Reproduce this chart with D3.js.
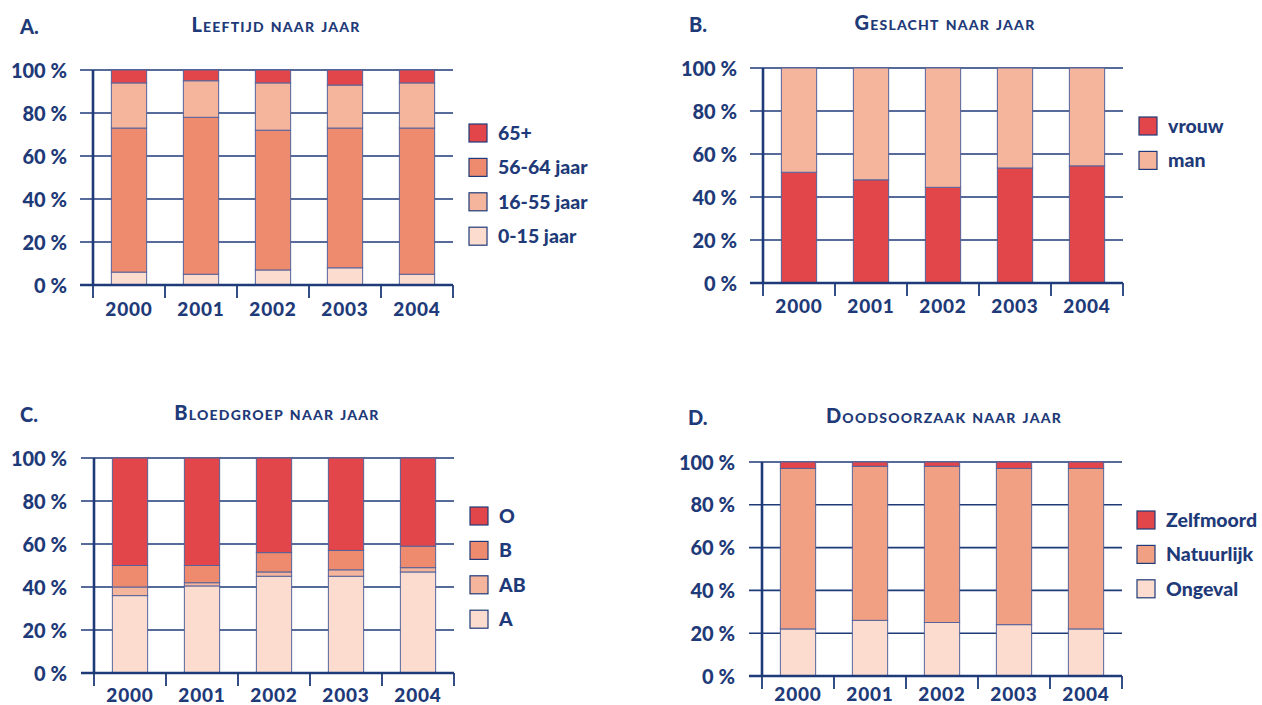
<!DOCTYPE html>
<html>
<head>
<meta charset="utf-8">
<script src="https://cdn.jsdelivr.net/npm/d3@7"></script>
<style>
  html, body { margin: 0; padding: 0; background: #fff; }
  svg { display: block; }
  text { font-family: Lato, "Open Sans", sans-serif; font-weight: 900; fill: #1f3a78; }
</style>
</head>
<body>
<svg id="chart" width="1262" height="705"></svg>
<script>
// Years on the horizontal axis of every panel
const years = ["2000", "2001", "2002", "2003", "2004"];
const yTicks = [0, 20, 40, 60, 80, 100];

// A. Leeftijd naar jaar (% per year, stacked bottom to top)
const leeftijd0_15  = [6, 5, 7, 8, 5];
const leeftijd56_64 = [67, 73, 65, 65, 68];
const leeftijd16_55 = [21, 17, 22, 20, 21];
const leeftijd65    = [6, 5, 6, 7, 6];

// B. Geslacht naar jaar
const vrouw = [51.5, 48, 44.5, 53.5, 54.5];
const man   = [48.5, 52, 55.5, 46.5, 45.5];

// C. Bloedgroep naar jaar
const groepA  = [36, 40.5, 45, 45, 47];
const groepAB = [4, 1.5, 2, 3, 2];
const groepB  = [10, 8, 9, 9, 10];
const groepO  = [50, 50, 44, 43, 41];

// D. Doodsoorzaak naar jaar
const ongeval    = [22, 26, 25, 24, 22];
const natuurlijk = [75, 72, 73, 73, 75];
const zelfmoord  = [3, 2, 2, 3, 3];

// Legend orders (top to bottom)
const legendA = ["65+", "56-64 jaar", "16-55 jaar", "0-15 jaar"];
const legendB = ["vrouw", "man"];
const legendC = ["O", "B", "AB", "A"];
const legendD = ["Zelfmoord", "Natuurlijk", "Ongeval"];

const INK = "#1f3a78";
const RED = "#e2454a", MID = "#ee8a6e", LIGHT = "#f5b49c", PALE = "#fbdccf", SALMON = "#f2a084";

const panels = [
  {
    letter: "A.", title: "Leeftijd naar jaar",
    x0: 93, top: 70, bottom: 285, letterX: 20, letterY: 34, titleX: 276, titleY: 32,
    labelRight: 67, legendX: 469, legendY: 124, legend: legendA, xLabelGap: 17,
    series: [
      { key: "0-15 jaar", values: leeftijd0_15, color: PALE },
      { key: "56-64 jaar", values: leeftijd56_64, color: MID },
      { key: "16-55 jaar", values: leeftijd16_55, color: LIGHT },
      { key: "65+", values: leeftijd65, color: RED }
    ]
  },
  {
    letter: "B.", title: "Geslacht naar jaar",
    x0: 763, top: 68, bottom: 283, letterX: 689, letterY: 32, titleX: 945, titleY: 30,
    labelRight: 737, legendX: 1139, legendY: 117, legend: legendB, xLabelGap: 16,
    series: [
      { key: "vrouw", values: vrouw, color: RED },
      { key: "man", values: man, color: LIGHT }
    ]
  },
  {
    letter: "C.", title: "Bloedgroep naar jaar",
    x0: 94, top: 458, bottom: 673, letterX: 20, letterY: 422, titleX: 277, titleY: 420,
    labelRight: 67, legendX: 470, legendY: 507, legend: legendC, xLabelGap: 15,
    series: [
      { key: "A", values: groepA, color: PALE },
      { key: "AB", values: groepAB, color: LIGHT },
      { key: "B", values: groepB, color: MID },
      { key: "O", values: groepO, color: RED }
    ]
  },
  {
    letter: "D.", title: "Doodsoorzaak naar jaar",
    x0: 762, top: 462, bottom: 676, letterX: 688, letterY: 425, titleX: 944, titleY: 423,
    labelRight: 735, legendX: 1137, legendY: 511, legend: legendD, xLabelGap: 11,
    series: [
      { key: "Ongeval", values: ongeval, color: PALE },
      { key: "Natuurlijk", values: natuurlijk, color: SALMON },
      { key: "Zelfmoord", values: zelfmoord, color: RED }
    ]
  }
];

const svg = d3.select("#chart");
const BAND = 72, TICK = 13, LEG_STEP = 34.4, SWATCH = 18;

panels.forEach(p => {
  const g = svg.append("g");
  const x = d3.scaleBand().domain(years).range([p.x0, p.x0 + BAND * years.length]).padding(0);
  const y = d3.scaleLinear().domain([0, 100]).range([p.bottom, p.top]);
  const xEnd = x.range()[1];

  // Headings
  g.append("text").attr("x", p.letterX).attr("y", p.letterY)
    .style("font-size", "20px").text(p.letter);
  g.append("text").attr("x", p.titleX).attr("y", p.titleY)
    .attr("text-anchor", "middle")
    .style("font-size", "20px").style("font-variant", "small-caps")
    .style("letter-spacing", "1.2px")
    .text(p.title);

  // Horizontal gridlines (behind the bars)
  g.append("g").selectAll("line").data(yTicks.filter(t => t > 0)).join("line")
    .attr("x1", p.x0 - TICK).attr("x2", xEnd)
    .attr("y1", d => y(d)).attr("y2", d => y(d))
    .attr("stroke", INK).attr("stroke-width", 1.6);

  // Stacked bars
  const rows = years.map((yr, i) => {
    const r = { year: yr };
    p.series.forEach(s => { r[s.key] = s.values[i]; });
    return r;
  });
  const stack = d3.stack().keys(p.series.map(s => s.key))(rows);
  const barW = x.bandwidth() * 0.49;
  const off = (x.bandwidth() - barW) / 2;
  stack.forEach((layer, li) => {
    g.append("g").selectAll("rect").data(layer).join("rect")
      .attr("x", d => x(d.data.year) + off)
      .attr("width", barW)
      .attr("y", d => y(d[1]))
      .attr("height", d => y(d[0]) - y(d[1]))
      .attr("fill", p.series[li].color)
      .attr("stroke", "#55639a").attr("stroke-width", 1);
  });

  // Axis frame: vertical axis, baseline, band separators
  g.append("line").attr("x1", p.x0 - TICK).attr("x2", xEnd)
    .attr("y1", y(0)).attr("y2", y(0))
    .attr("stroke", INK).attr("stroke-width", 2.6);
  g.append("line").attr("x1", p.x0).attr("x2", p.x0)
    .attr("y1", y(100)).attr("y2", y(0))
    .attr("stroke", INK).attr("stroke-width", 2.6);
  const edges = years.map(yr => x(yr)).concat([xEnd]);
  g.append("g").selectAll("line").data(edges).join("line")
    .attr("x1", d => d).attr("x2", d => d)
    .attr("y1", y(0)).attr("y2", y(0) + TICK)
    .attr("stroke", INK).attr("stroke-width", 1.8);

  // Y labels via a left axis
  const yAxis = g.append("g")
    .attr("transform", `translate(${p.labelRight},0)`)
    .call(d3.axisLeft(y).tickValues(yTicks).tickSize(0).tickPadding(0).tickFormat(d => d + " %"));
  yAxis.select(".domain").remove();
  yAxis.selectAll("text")
    .attr("font-size", 20).style("font-size", "20px")
    .attr("fill", INK).attr("dy", "0.35em");

  // X labels via a bottom axis
  const xAxis = g.append("g")
    .attr("transform", `translate(0,${y(0) + p.xLabelGap})`)
    .call(d3.axisBottom(x).tickSize(0).tickPadding(0));
  xAxis.select(".domain").remove();
  xAxis.selectAll("text")
    .attr("font-size", 19).style("font-size", "19px").style("letter-spacing", "0.8px")
    .attr("fill", INK).attr("dy", "0.75em");

  // Legend
  const byKey = new Map(p.series.map(s => [s.key, s]));
  const items = p.legend.map(k => byKey.get(k));
  const lg = g.append("g").selectAll("g").data(items).join("g")
    .attr("transform", (d, i) => `translate(${p.legendX},${p.legendY + i * LEG_STEP})`);
  lg.append("rect").attr("width", SWATCH).attr("height", SWATCH)
    .attr("fill", d => d.color).attr("stroke", INK).attr("stroke-width", 1.2);
  lg.append("text").attr("x", 29).attr("y", SWATCH / 2).attr("dy", "0.36em")
    .style("font-size", "19.5px").text(d => d.key);
});
</script>
</body>
</html>
